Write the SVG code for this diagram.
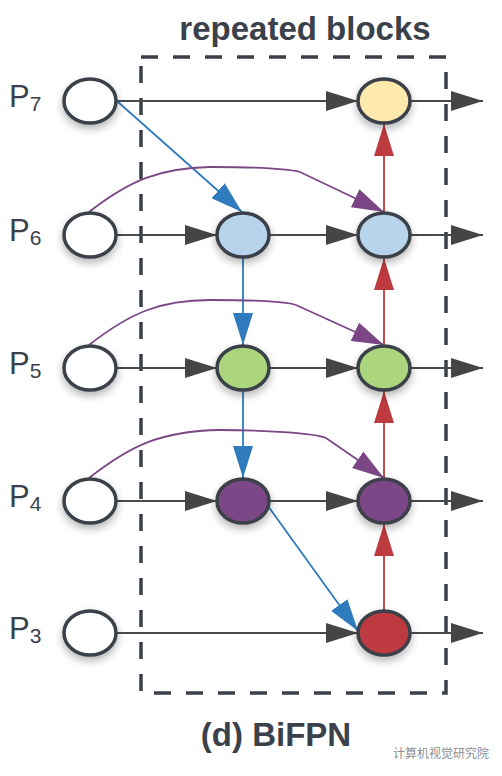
<svg xmlns="http://www.w3.org/2000/svg" width="502" height="776" viewBox="0 0 502 776">
<defs>
<style>
.nd{stroke:#3a4149;stroke-width:3.5}
.lbl{font-family:"Liberation Sans",Arial,sans-serif;fill:#3a414a}
.k{stroke:#4a4a4a;stroke-width:2;fill:none}
.b{stroke:#2f7bbd;stroke-width:1.8;fill:none}
.r{stroke:#bd3a3f;stroke-width:1.8;fill:none}
.p{stroke:#7b4686;stroke-width:1.8;fill:none}
</style>
<marker id="ak" viewBox="0 0 32 20" refX="32" refY="10" markerWidth="32" markerHeight="20" markerUnits="userSpaceOnUse" orient="auto"><path d="M0,0 L32,10 L0,20 Z" fill="#454545"/></marker>
<marker id="ab" viewBox="0 0 32 20" refX="32" refY="10" markerWidth="32" markerHeight="20" markerUnits="userSpaceOnUse" orient="auto"><path d="M0,0 L32,10 L0,20 Z" fill="#2f7bbd"/></marker>
<marker id="ar" viewBox="0 0 32 20" refX="32" refY="10" markerWidth="32" markerHeight="20" markerUnits="userSpaceOnUse" orient="auto"><path d="M0,0 L32,10 L0,20 Z" fill="#bd3a3f"/></marker>
<marker id="ap" viewBox="0 0 32 20" refX="32" refY="10" markerWidth="32" markerHeight="20" markerUnits="userSpaceOnUse" orient="auto"><path d="M0,0 L32,10 L0,20 Z" fill="#7b4686"/></marker>
<filter id="sh" x="-50%" y="-50%" width="200%" height="200%"><feGaussianBlur in="SourceAlpha" stdDeviation="4"/><feOffset dy="4"/><feComponentTransfer><feFuncA type="linear" slope="0.3"/></feComponentTransfer><feMerge><feMergeNode/><feMergeNode in="SourceGraphic"/></feMerge></filter>
</defs>
<rect width="502" height="776" fill="#ffffff"/>
<text class="lbl" x="305" y="40" font-size="33" font-weight="bold" text-anchor="middle">repeated blocks</text>
<rect x="141" y="57" width="305" height="636" fill="none" stroke="#3a4048" stroke-width="3.5" stroke-dasharray="17,15"/>
<g id="connectors">
<line class="k" x1="117" y1="101" x2="358" y2="101" marker-end="url(#ak)"/>
<line class="k" x1="410" y1="101" x2="483" y2="101" marker-end="url(#ak)"/>
<line class="k" x1="117" y1="235" x2="217" y2="235" marker-end="url(#ak)"/>
<line class="k" x1="269" y1="235" x2="358" y2="235" marker-end="url(#ak)"/>
<line class="k" x1="410" y1="235" x2="483" y2="235" marker-end="url(#ak)"/>
<line class="k" x1="117" y1="368" x2="217" y2="368" marker-end="url(#ak)"/>
<line class="k" x1="269" y1="368" x2="358" y2="368" marker-end="url(#ak)"/>
<line class="k" x1="410" y1="368" x2="483" y2="368" marker-end="url(#ak)"/>
<line class="k" x1="117" y1="501" x2="217" y2="501" marker-end="url(#ak)"/>
<line class="k" x1="269" y1="501" x2="358" y2="501" marker-end="url(#ak)"/>
<line class="k" x1="410" y1="501" x2="483" y2="501" marker-end="url(#ak)"/>
<line class="k" x1="117" y1="633" x2="358" y2="633" marker-end="url(#ak)"/>
<line class="k" x1="410" y1="633" x2="483" y2="633" marker-end="url(#ak)"/>
<line class="b" x1="118" y1="102" x2="242" y2="212" marker-end="url(#ab)"/>
<line class="b" x1="243" y1="258" x2="243" y2="345" marker-end="url(#ab)"/>
<line class="b" x1="243" y1="391" x2="243" y2="478" marker-end="url(#ab)"/>
<line class="b" x1="268" y1="506" x2="358" y2="631" marker-end="url(#ab)"/>
<line class="r" x1="384" y1="611" x2="384" y2="524" marker-end="url(#ar)"/>
<line class="r" x1="384" y1="478" x2="384" y2="391" marker-end="url(#ar)"/>
<line class="r" x1="384" y1="345" x2="384" y2="258" marker-end="url(#ar)"/>
<line class="r" x1="384" y1="212" x2="384" y2="124" marker-end="url(#ar)"/>
<path class="p" d="M89,212 C130,180 160,168 210,167 C250,167 285,168 300,172 L384,212" marker-end="url(#ap)"/>
<path class="p" d="M89,345 C130,313 160,300 210,300 C250,300 285,301 296,305 L384,345" marker-end="url(#ap)"/>
<path class="p" d="M89,478 C130,446 160,431 220,430 C260,430 315,433 326,438 L384,478" marker-end="url(#ap)"/>
</g>
<g id="P7-in" filter="url(#sh)"><ellipse class="nd" cx="90" cy="101" rx="26" ry="22" fill="#ffffff"/></g>
<g id="P6-in" filter="url(#sh)"><ellipse class="nd" cx="90" cy="235" rx="26" ry="22" fill="#ffffff"/></g>
<g id="P5-in" filter="url(#sh)"><ellipse class="nd" cx="90" cy="368" rx="26" ry="22" fill="#ffffff"/></g>
<g id="P4-in" filter="url(#sh)"><ellipse class="nd" cx="90" cy="501" rx="26" ry="22" fill="#ffffff"/></g>
<g id="P3-in" filter="url(#sh)"><ellipse class="nd" cx="90" cy="633" rx="26" ry="22" fill="#ffffff"/></g>
<g id="P6-mid" filter="url(#sh)"><ellipse class="nd" cx="243" cy="235" rx="26" ry="22" fill="#b8d4ec"/></g>
<g id="P5-mid" filter="url(#sh)"><ellipse class="nd" cx="243" cy="368" rx="26" ry="22" fill="#acd67e"/></g>
<g id="P4-mid" filter="url(#sh)"><ellipse class="nd" cx="243" cy="501" rx="26" ry="22" fill="#7b4686"/></g>
<g id="P7-out" filter="url(#sh)"><ellipse class="nd" cx="384" cy="101" rx="26" ry="22" fill="#fde9ac"/></g>
<g id="P6-out" filter="url(#sh)"><ellipse class="nd" cx="384" cy="235" rx="26" ry="22" fill="#b8d4ec"/></g>
<g id="P5-out" filter="url(#sh)"><ellipse class="nd" cx="384" cy="368" rx="26" ry="22" fill="#acd67e"/></g>
<g id="P4-out" filter="url(#sh)"><ellipse class="nd" cx="384" cy="501" rx="26" ry="22" fill="#7b4686"/></g>
<g id="P3-out" filter="url(#sh)"><ellipse class="nd" cx="384" cy="633" rx="26" ry="22" fill="#bd3a3f"/></g>
<g id="labels">
<text class="lbl" x="9" y="107" font-size="31">P<tspan font-size="21" dy="4">7</tspan></text>
<text class="lbl" x="9" y="241" font-size="31">P<tspan font-size="21" dy="4">6</tspan></text>
<text class="lbl" x="9" y="374" font-size="31">P<tspan font-size="21" dy="4">5</tspan></text>
<text class="lbl" x="9" y="507" font-size="31">P<tspan font-size="21" dy="4">4</tspan></text>
<text class="lbl" x="9" y="639" font-size="31">P<tspan font-size="21" dy="4">3</tspan></text>
</g>
<text class="lbl" x="276" y="746" font-size="33" font-weight="bold" text-anchor="middle">(d) BiFPN</text>
<text x="393" y="758" font-size="12" fill="#8a8f94" font-family="'Noto Sans CJK SC',sans-serif">计算机视觉研究院</text>
</svg>
